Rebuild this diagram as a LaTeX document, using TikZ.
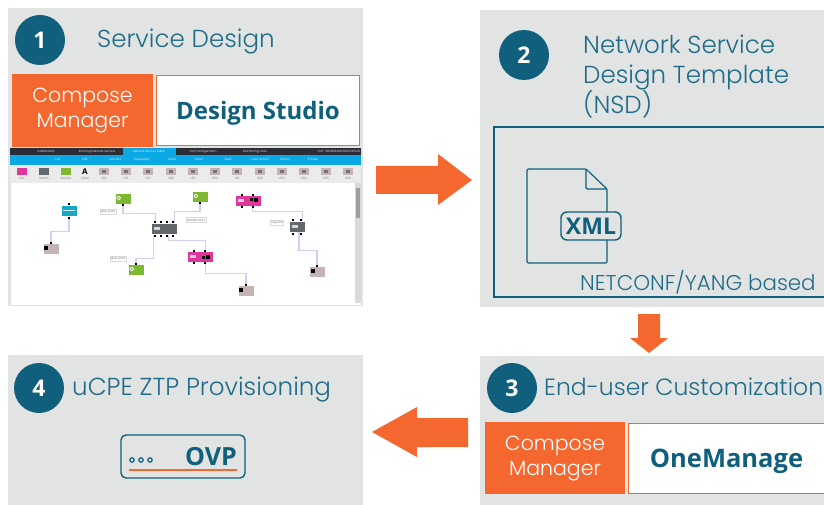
\documentclass[tikz,border=0pt]{standalone}
\usepackage{fontspec}
\setmainfont{Poppins Light}
\newfontfamily\boldface{Open Sans}[BoldFont={* Bold}]
\usetikzlibrary{calc}
\definecolor{panelgray}{HTML}{E2E4E3}
\definecolor{teal}{HTML}{0F5F7D}
\definecolor{tealtext}{HTML}{1F6C8A}
\definecolor{flame}{HTML}{F4672F}
\definecolor{barblue}{HTML}{0AA9E6}
\definecolor{bardark}{HTML}{2B2D36}
\definecolor{wire}{HTML}{D2CFEE}
\definecolor{vnfgreen}{HTML}{7DB832}
\definecolor{vnfpink}{HTML}{E0359A}
\definecolor{vnfcyan}{HTML}{17A9C4}
\definecolor{vnfgray}{HTML}{62686C}
\definecolor{vnfbeige}{HTML}{C4B4B4}
\tikzset{
  panel/.style={fill=panelgray,draw=none},
  badge/.style={circle,fill=teal,text=white,minimum size=50pt,inner sep=0pt,font=\fontsize{23}{23}\selectfont\boldface\bfseries},
  heading/.style={anchor=base west,inner sep=0pt,text=tealtext,font=\fontsize{24.6}{25}\selectfont},
  orangebox/.style={fill=flame,text=white,align=center,inner sep=0pt,font=\fontsize{20.5}{25}\selectfont},
  whitebox/.style={fill=white,draw=flame,line width=1.5pt,text=teal,inner sep=0pt,text depth=0pt,font=\fontsize{24}{25}\selectfont\boldface\bfseries},
  bigarrow/.style={fill=flame,draw=none},
  vnf/.style={minimum width=#1,minimum height=11pt,inner sep=0pt,draw=white,line width=.5pt},
  port/.style={fill=black,minimum size=2.6pt,inner sep=0pt},
  link/.style={draw=wire,line width=1.1pt},
  tag/.style={draw=black!15,fill=white,inner sep=1pt,font=\fontsize{2.8}{3}\selectfont,text=black!70},
  tiny/.style={font=\fontsize{3}{3}\selectfont,inner sep=0pt,anchor=base},
  icon/.style={minimum width=10pt,minimum height=7pt,inner sep=0pt},
  iconline/.style={draw=teal,line width=1.2pt,line join=round,rounded corners=1.2pt},
}
\begin{document}
\begin{tikzpicture}[x=1pt,y=-1pt]
\useasboundingbox (0,0) rectangle (824,505);
\path[fill=white] (0,0) rectangle (824,505);
% panels
\path[panel] (8,8) rectangle (363,306);
\path[panel] (480,10) rectangle (824,307);
\path[panel] (480,356) rectangle (824,505);
\path[panel] (8,355) rectangle (363,505);
% headings
\node[badge] (b1) at (40,40) {1};
\node[badge] (b2) at (524,55) {2};
\node[badge] (b3) at (512,388) {3};
\node[badge] (b4) at (39,388) {4};
\node[heading] (h1) at (97,48) {Service Design};
\node[heading] (h2a) at (583,54) {Network Service};
\node[heading] (h2b) at (583,84) {Design Template};
\node[heading] (h2c) at (583,114) {(NSD)};
\node[heading,font=\fontsize{23.5}{24}\selectfont] (h3) at (544,395) {End-user Customization};
\node[heading] (h4) at (72,395) {uCPE ZTP Provisioning};
% boxes row
\node[orangebox,minimum width=141pt,minimum height=73pt] (cm1) at (82.5,110.5) {Compose\\Manager};
\node[whitebox,minimum width=203pt,minimum height=70pt] (ds) at (258,110.5) {Design Studio};
\node[orangebox,minimum width=140pt,minimum height=72pt] (cm2) at (555,458) {Compose\\Manager};
\node[whitebox,minimum width=196pt,minimum height=70pt,font=\fontsize{25.5}{26}\selectfont\boldface\bfseries] (om) at (726.5,458.5) {OneManage};
% screenshot
\path[fill=white,draw=black!12,line width=.6pt] (10,148) rectangle (361,305);
\path[fill=bardark] (10,148) rectangle (361,155);
\path[fill=barblue] (123,148) rectangle (176,155);
\path[fill=barblue] (10,155) rectangle (361,165);
\path[fill=black!8] (10,165) rectangle (361,183);
\path[fill=black!15] (355,183) rectangle (361,303);
\path[fill=black!38] (356,188) rectangle (360,218);
\node[tiny,text=white] (t1) at (46,152.5) {Dashboard};
\node[tiny,text=white] (t2) at (97,152.5) {Running Network Service};
\node[tiny,text=white] (t3) at (149,152.5) {Network Service editor};
\node[tiny,text=white] (t4) at (203,152.5) {OVP configuration};
\node[tiny,text=white] (t5) at (255,152.5) {Monitoring tools};
\node[tiny,text=white,anchor=base east] (t6) at (360,152.5) {OVP\ \ 0806f8b84f39d47d5f28};
\foreach \x/\s/\i in {58/List/a,85/Edit/b,115/Convert/c,142/Repository/d,172/Clear/e,199/Send/f,228/View/g,260/Load action/h,285/History/i,313/Private/j}{
  \node[tiny,text=white] (m\i) at (\x,161) {\s};
}
% toolbar
\node[icon,fill=vnfpink] (i1) at (22,172) {};
\node[icon,fill=vnfgray] (i2) at (44,172) {};
\node[icon,fill=vnfgreen] (i3) at (66,172) {};
\node[inner sep=0pt,font=\fontsize{8}{8}\selectfont\boldface\bfseries] (i4) at (85,172) {A};
\foreach \n/\x in {5/104,6/126,7/148,8/171,9/193,10/215,11/237,12/260,13/282,14/304,15/326,16/348}{
  \node[icon,fill=vnfbeige] (i\n) at (\x,172) {};
  \node[fill=black!55,minimum width=4pt,minimum height=3pt,inner sep=0pt] (g\n) at (\x,172) {};
  \node[tiny,text=black!60] (l\n) at (\x,179) {x5\n};
}
\node[tiny,text=black!60] (l1) at (22,179) {VNF};
\node[tiny,text=black!60] (l2) at (44,179) {Switch};
\node[tiny,text=black!60] (l3) at (66,179) {Service};
\node[tiny,text=black!60] (l4) at (85,179) {Label};
% canvas nodes
\node[vnf=16pt,fill=vnfcyan] (cy) at (69,211) {};
\node[vnf=16pt,fill=vnfbeige] (be1) at (51,249) {};
\node[vnf=16pt,fill=vnfgreen] (gr1) at (123,199) {};
\node[vnf=26pt,fill=vnfgray] (sw) at (164,229) {};
\node[vnf=16pt,fill=vnfgreen] (gr2) at (136,270) {};
\node[vnf=16pt,fill=vnfgreen] (gr3) at (200,197) {};
\node[vnf=26pt,fill=vnfpink] (pk1) at (248,201) {};
\node[vnf=26pt,fill=vnfpink] (pk2) at (200,257) {};
\node[vnf=16pt,fill=vnfgray] (sw2) at (297,227) {};
\node[vnf=16pt,fill=vnfbeige] (be2) at (317,272) {};
\node[vnf=16pt,fill=vnfbeige] (be3) at (246,291) {};
\node[tag] (tg1) at (108,212) {drop point};
\node[tag] (tg2) at (118,259) {drop point};
\node[tag] (tg3) at (196,220) {192.168.0.2/24};
\node[tag] (tg4) at (277,223) {Tag 200};
% links
\path[link] (cy.south) |- ($(cy.south)!.55!(be1.north)$) -| (be1.north);
\path[link] (gr1.south) |- ($(gr1.south)+(0,9)$) -| ($(sw.north west)+(5,0)$);
\path[link] (gr3.south) |- ($(gr3.south)+(0,9)$) -| ($(sw.north east)+(-3,0)$);
\path[link] ($(sw.south west)+(3,0)$) |- ($(gr2.north)+(0,-6)$) -- (gr2.north);
\path[link] ($(sw.south east)+(-9,0)$) -- ++(0,6) -| ($(pk2.north east)+(-8,0)$);
\path[link] ($(pk1.south east)+(-9,0)$) -- ++(0,5) -| ($(sw2.north east)+(-3,0)$);
\path[link] (sw2.south) -- ++(2,0) |- ($(be2.north)+(0,-16)$) -- (be2.north);
\path[link] ($(pk2.south east)+(-8,0)$) |- ($(be3.north)+(0,-12)$) -- (be3.north);
% ports
\foreach \n/\x/\y in {a/69/204,b/69/218,c/51/243,d/123/205,f/155/222,g/161/222,h/167/222,i/173/222,j/155/236,k/161/236,l/167/236,m/173/236,n/136/264,o/200/203,p/242/195,q/253/195,r/242/207,s/253/207,t/194/251,u/205/251,v/194/263,w/205/263,x/293/220,y/301/220,z/293/234,A/301/234,B/317/266,C/246/285}{
  \node[port] (p\n) at (\x,\y) {};
}
% canvas glyphs
\foreach \g in {gr1,gr2,gr3}{
  \draw[white,line width=.7pt] ($(\g.west)+(4,-1)$) circle (1.8pt);
}
\foreach \g in {pk1,pk2,sw,sw2}{
  \path[fill=white,fill opacity=.75] ($(\g.west)+(3,-2)$) rectangle ++(6,3);
}
\path[fill=white,fill opacity=.8] ($(cy.west)+(2,-1.5)$) rectangle ($(cy.east)+(-2,0)$);
\node[port,minimum size=4pt] (k1) at (256,200) {};
\node[port,minimum size=3pt] (k1b) at (251,200) {};
\node[port,minimum size=4pt] (k2) at (208,257) {};
\node[port,minimum size=3pt] (k2b) at (203,257) {};
\node[port,minimum size=4pt] (k3) at (46,248) {};
\node[port,minimum size=4pt] (k4) at (313,271) {};
\node[port,minimum size=4pt] (k5) at (241,290) {};
% big arrows
\path[bigarrow] (376,166) -- (438,166) -- (438,154) -- (472,180) -- (438,205) -- (438,194) -- (376,194) -- cycle;
\path[bigarrow] (638,314) -- (660,314) -- (660,338) -- (668,338) -- (649,353) -- (630,338) -- (638,338) -- cycle;
\path[bigarrow] (468,418) -- (417,418) -- (417,407) -- (372,432) -- (417,457) -- (417,447) -- (468,447) -- cycle;
% NSD frame
\draw[teal,line width=1.4pt] (824,127) -- (494,127) -- (494,297) -- (824,297);
\draw[iconline] (586,169) -- (527,169) -- (527,263) -- (607,263) -- (607,189) -- cycle;
\draw[iconline] (586,169) -- (586,189) -- (607,189);
\node[draw=teal,fill=panelgray,line width=1.4pt,rounded corners=6pt,minimum width=60pt,minimum height=28pt,inner sep=0pt,text=teal,font=\fontsize{23}{23}\selectfont\boldface\bfseries] (xml) at (591,226) {XML};
\node[anchor=base west,inner sep=0pt,text=tealtext,font=\fontsize{21.4}{22}\selectfont] (nc) at (580,290) {NETCONF/YANG based};
% OVP
\node[draw=teal,line width=1.4pt,rounded corners=5pt,minimum width=124pt,minimum height=43pt,inner sep=0pt] (ovpbox) at (183,456.5) {};
\foreach \n/\x in {1/132,2/141,3/150}{
  \draw[teal,line width=1.2pt] (\x,460) circle (2.2pt);
}
\node[anchor=base east,inner sep=0pt,text=teal,font=\fontsize{25}{25}\selectfont\boldface\bfseries] (ovp) at (237,465) {OVP};
\draw[flame,line width=1.3pt] (129,470) -- (237,470);
\end{tikzpicture}
\end{document}
